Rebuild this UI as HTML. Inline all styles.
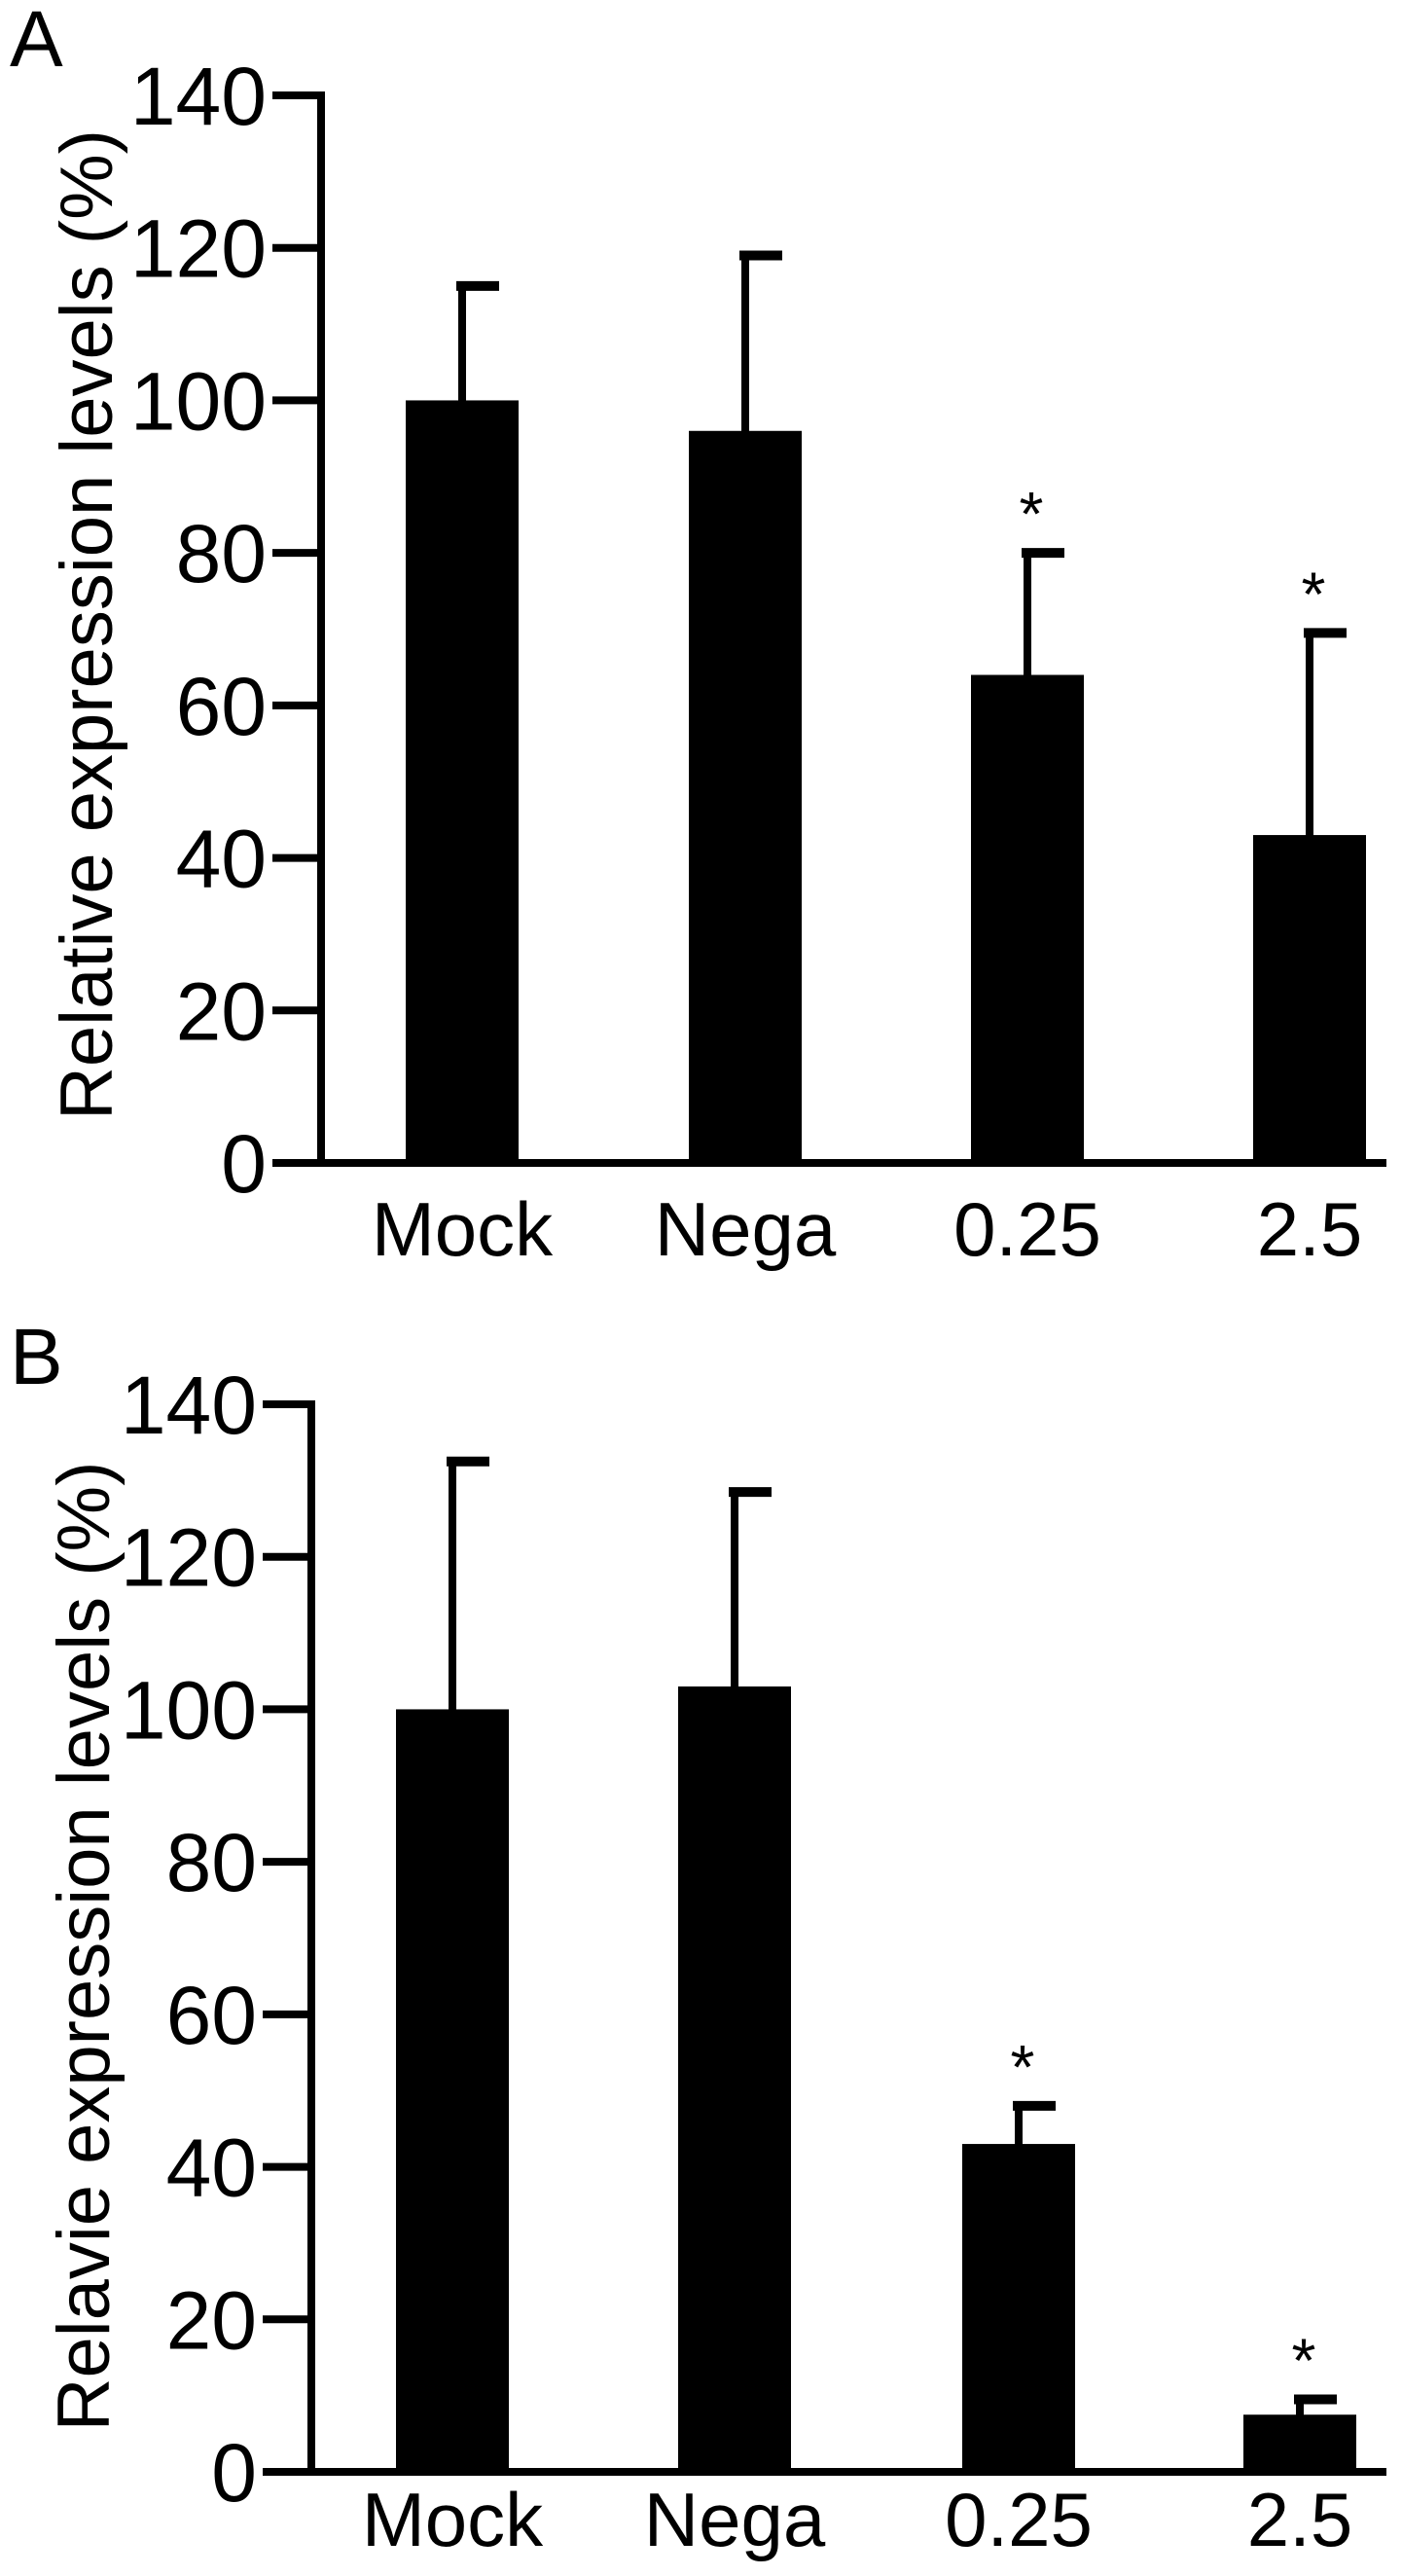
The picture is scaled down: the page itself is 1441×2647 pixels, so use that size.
<!DOCTYPE html>
<html><head><meta charset="utf-8"><style>
html,body{margin:0;padding:0;background:#fff;}
svg{display:block;font-family:"Liberation Sans",Arial,sans-serif;}
</style></head><body>
<svg id="chart" width="1441" height="2647" viewBox="0 0 1441 2647" xmlns="http://www.w3.org/2000/svg"></svg>
<script>
const categories = ["Mock", "Nega", "0.25", "2.5"];
const valuesA = [100, 96, 64, 43];
const errorsA = [115, 119, 80, 69.5];
const sigA = [false, false, true, true];
const valuesB = [100, 103, 43, 7.5];
const errorsB = [132.5, 128.5, 48, 9.5];
const sigB = [false, false, true, true];
const yTicks = [0, 20, 40, 60, 80, 100, 120, 140];

const NS = "http://www.w3.org/2000/svg";
const svg = document.getElementById("chart");
function mk(tag, attrs, parent) {
  const e = document.createElementNS(NS, tag);
  for (const k in attrs) e.setAttribute(k, attrs[k]);
  (parent || svg).appendChild(e);
  return e;
}

function panel(p) {
  const g = mk("g", {});
  
  
  const y = v => p.y0 - (v / 140) * (p.y0 - p.y140);
  const x = i => p.barX[i];
  const L = mk("text", {x: 10, y: p.letterY, "font-size": 82}, g);
  L.textContent = p.letter;
  
  
  const t = mk("text", {x: 0, y: 0, "font-size": 76, "text-anchor": "middle", transform: `translate(${p.titleX},${p.titleY}) rotate(-90)`}, g);
  t.textContent = p.title;
  
  
  categories.forEach((c, i) => {
    const bx = x(i), bw = 116, cx = bx + bw / 2;
    const err = mk("line", {x1: cx, x2: cx, y1: y(p.errs[i]), y2: y(p.vals[i]) + 20, stroke: "#000", "stroke-width": 8}, g);
    
    
    const cap = mk("line", {x1: cx - 6, x2: cx + 38, y1: y(p.errs[i]), y2: y(p.errs[i]), stroke: "#000", "stroke-width": 10}, g);
    
    
    const r = mk("rect", {x: bx, y: y(p.vals[i]), width: bw, height: p.y0 - y(p.vals[i]), fill: "#000"}, g);
    
    
    if (p.sig[i]) {
      const s = mk("text", {x: cx + 4, y: y(p.errs[i]) - 18, "font-size": 64, "text-anchor": "middle"}, g);
      s.textContent = "*";
      
      
    }
    const lab = mk("text", {x: cx, y: p.labelY, "font-size": 78, "text-anchor": "middle"}, g);
    lab.textContent = c;
    
    
  });
  const ya = mk("line", {x1: p.axisX, x2: p.axisX, y1: y(140) - 4, y2: p.y0 + 4, stroke: "#000", "stroke-width": 8}, g);
  
  
  const xa = mk("line", {x1: p.axisX - 4, x2: 1425, y1: p.y0, y2: p.y0, stroke: "#000", "stroke-width": 8}, g);
  
  
  yTicks.forEach(v => {
    const tk = mk("line", {x1: p.axisX - 50, x2: p.axisX, y1: y(v), y2: y(v), stroke: "#000", "stroke-width": 8}, g);
    
    
    const tl = mk("text", {x: p.axisX - 56, y: y(v) + 30, "font-size": 84, "text-anchor": "end"}, g);
    tl.textContent = v;
    
    
  });
}

panel({name: "panel-a", letter: "A", letterY: 68, title: "Relative expression levels (%)", titleX: 115, titleY: 642,
  y0: 1195, y140: 98, axisX: 330, barX: [417, 708, 998, 1288], labelY: 1290,
  vals: valuesA, errs: errorsA, sig: sigA});
panel({name: "panel-b", letter: "B", letterY: 1422, title: "Relavie expression levels (%)", titleX: 112, titleY: 2000,
  y0: 2540, y140: 1443, axisX: 320, barX: [407, 697, 989, 1278], labelY: 2616,
  vals: valuesB, errs: errorsB, sig: sigB});
</script>
</body></html>
